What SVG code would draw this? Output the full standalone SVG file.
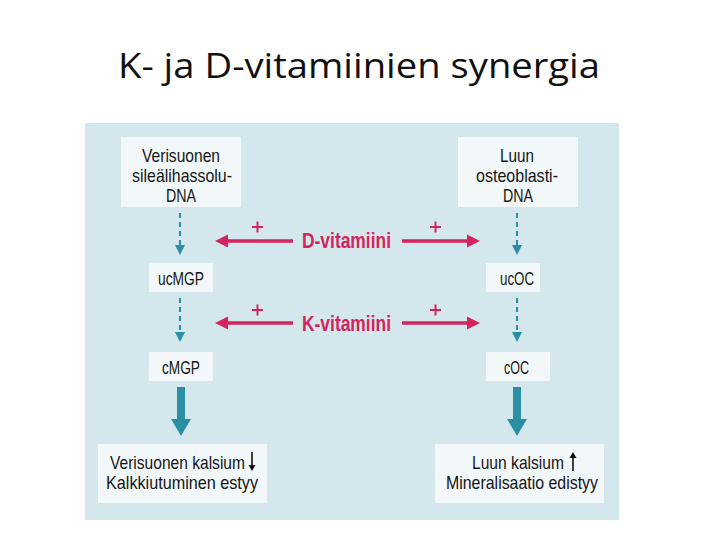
<svg xmlns="http://www.w3.org/2000/svg" width="720" height="540" viewBox="0 0 720 540">
<defs>
<style>
.title{font-family:"Open Sans","Liberation Sans",sans-serif;font-size:35px;fill:#111}
.box{fill:#f2f8fa}
.t{font-family:"Liberation Sans","DejaVu Sans",sans-serif;font-size:19px;fill:#161616;text-anchor:start}
.v{font-family:"Liberation Sans","DejaVu Sans",sans-serif;font-size:21.5px;font-weight:bold;fill:#d4245e}
.plus{stroke:#d4245e;stroke-width:2;fill:none}
.pink{stroke:#d4245e;stroke-width:3.5;fill:none}
.dash{stroke:#2a8fa5;stroke-width:2;stroke-dasharray:5,4;fill:none}
.thick{stroke:#2a8fa5;stroke-width:8;fill:none}
</style>
</defs>
<rect width="720" height="540" fill="#ffffff"/>
<text class="title" x="118" y="78" textLength="482" lengthAdjust="spacingAndGlyphs">K- ja D-vitamiinien synergia</text>
<rect x="85" y="123" width="534" height="397" fill="#d4e7ec"/>

<g id="n-verisuonen-dna">
<rect class="box" x="121" y="137" width="120" height="70"/>
<text class="t" x="142" y="162" textLength="78" lengthAdjust="spacingAndGlyphs">Verisuonen</text>
<text class="t" x="132" y="182" textLength="100" lengthAdjust="spacingAndGlyphs">sileälihassolu-</text>
<text class="t" x="166" y="202" textLength="30" lengthAdjust="spacingAndGlyphs">DNA</text>
</g>
<g id="n-luun-dna">
<rect class="box" x="458" y="137" width="120" height="70"/>
<text class="t" x="500" y="162" textLength="34" lengthAdjust="spacingAndGlyphs">Luun</text>
<text class="t" x="476" y="182" textLength="82" lengthAdjust="spacingAndGlyphs">osteoblasti-</text>
<text class="t" x="503" y="202" textLength="30" lengthAdjust="spacingAndGlyphs">DNA</text>
</g>
<g id="n-ucmgp">
<rect class="box" x="149" y="263" width="64" height="29"/>
<text class="t" x="158" y="285" textLength="46" lengthAdjust="spacingAndGlyphs" font-size="21">ucMGP</text>
</g>
<g id="n-ucoc">
<rect class="box" x="486" y="263" width="54" height="29"/>
<text class="t" x="500" y="285" textLength="34" lengthAdjust="spacingAndGlyphs" font-size="21">ucOC</text>
</g>
<g id="n-cmgp">
<rect class="box" x="149" y="352" width="64" height="29"/>
<text class="t" x="162" y="374" textLength="38" lengthAdjust="spacingAndGlyphs" font-size="21">cMGP</text>
</g>
<g id="n-coc">
<rect class="box" x="486" y="352" width="64" height="29"/>
<text class="t" x="504" y="374" textLength="25" lengthAdjust="spacingAndGlyphs" font-size="21">cOC</text>
</g>
<g id="n-verisuonen-kalsium">
<rect class="box" x="98" y="444" width="169" height="59"/>
<text class="t" x="110" y="469" textLength="135" lengthAdjust="spacingAndGlyphs">Verisuonen kalsium</text>
<path d="M252,452 V466" stroke="#111" stroke-width="1.6"/>
<path d="M248.5,465 L255.5,465 L252,471 Z" fill="#111"/>
<text class="t" x="106" y="489" textLength="152" lengthAdjust="spacingAndGlyphs">Kalkkiutuminen estyy</text>
</g>
<g id="n-luun-kalsium">
<rect class="box" x="435" y="444" width="169" height="59"/>
<text class="t" x="472" y="469" textLength="92" lengthAdjust="spacingAndGlyphs">Luun kalsium</text>
<path d="M573,471 V457" stroke="#111" stroke-width="1.6"/>
<path d="M569.5,458 L576.5,458 L573,452 Z" fill="#111"/>
<text class="t" x="446" y="489" textLength="152" lengthAdjust="spacingAndGlyphs">Mineralisaatio edistyy</text>
</g>
<g id="n-d-vitamiini">
<text class="v" x="302" y="248" textLength="89" lengthAdjust="spacingAndGlyphs">D-vitamiini</text>
</g>
<g id="n-k-vitamiini">
<text class="v" x="302" y="331" textLength="89" lengthAdjust="spacingAndGlyphs">K-vitamiini</text>
</g>

<g id="connectors">
<path class="dash" d="M180,213 V246"/>
<path d="M175,245 L185,245 L180,255 Z" fill="#2a8fa5"/>
<path class="dash" d="M180,298 V333"/>
<path d="M175,332 L185,332 L180,342 Z" fill="#2a8fa5"/>
<path class="dash" d="M517,213 V246"/>
<path d="M512,245 L522,245 L517,255 Z" fill="#2a8fa5"/>
<path class="dash" d="M517,298 V333"/>
<path d="M512,332 L522,332 L517,342 Z" fill="#2a8fa5"/>

<path class="thick" d="M181,387 V420"/>
<path d="M171,419 L191,419 L181,436 Z" fill="#2a8fa5"/>
<path class="thick" d="M517,387 V420"/>
<path d="M507,419 L527,419 L517,436 Z" fill="#2a8fa5"/>

<path class="pink" d="M293,241 H226"/>
<path d="M215,241 L228,234.5 L228,247.5 Z" fill="#d4245e"/>
<path class="pink" d="M402,241 H469"/>
<path d="M480,241 L467,234.5 L467,247.5 Z" fill="#d4245e"/>
<path class="pink" d="M293,323 H226"/>
<path d="M215,323 L228,316.5 L228,329.5 Z" fill="#d4245e"/>
<path class="pink" d="M402,323 H469"/>
<path d="M480,323 L467,316.5 L467,329.5 Z" fill="#d4245e"/>

<path class="plus" d="M252,227 H263 M257.5,221.5 V232.5"/>
<path class="plus" d="M430,227 H441 M435.5,221.5 V232.5"/>
<path class="plus" d="M252,310 H263 M257.5,304.5 V315.5"/>
<path class="plus" d="M430,310 H441 M435.5,304.5 V315.5"/>
</g>
</svg>
